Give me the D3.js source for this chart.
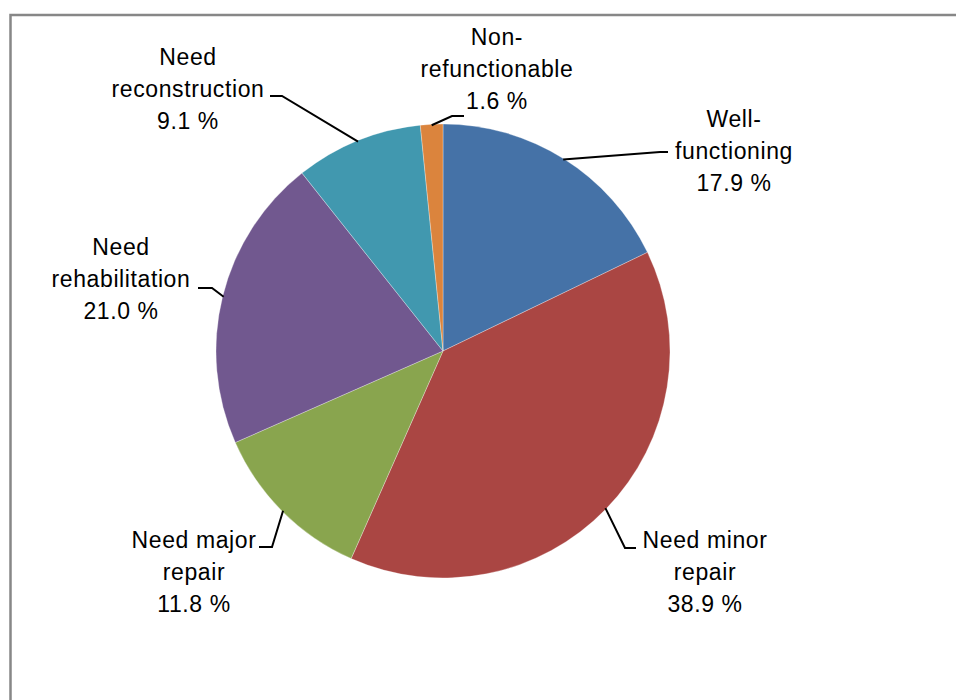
<!DOCTYPE html>
<html>
<head>
<meta charset="utf-8">
<script src="https://cdn.jsdelivr.net/npm/d3@7"></script>
<style>
  body { margin: 0; background: #fff; }
  text { font-family: "Liberation Sans", Arial, sans-serif; }
</style>
</head>
<body>
<div id="chart"></div>
<script>
// Data
const categories = ["Well-functioning", "Need minor repair", "Need major repair",
                    "Need rehabilitation", "Need reconstruction", "Non-refunctionable"];
const values = [17.9, 38.9, 11.8, 21.0, 9.1, 1.6];
const labelLines = [
    ["Well-", "functioning"],
    ["Need minor", "repair"],
    ["Need major", "repair"],
    ["Need", "rehabilitation"],
    ["Need", "reconstruction"],
    ["Non-", "refunctionable"]
];
const colors = ["#4572A7", "#AA4643", "#89A54E", "#71588F", "#4198AF", "#DB843D"];

// Label placement (text anchor, leader elbow and end)
const labelLayout = [
    { x: 734, y: 127, elbow: [660, 152], end: [668, 152] },
    { x: 705, y: 548, elbow: [625, 548], end: [636, 548] },
    { x: 194, y: 548, elbow: [272, 547], end: [259, 547] },
    { x: 121, y: 255, elbow: [212, 288], end: [198, 288] },
    { x: 188, y: 65,  elbow: [282, 96],  end: [270, 96] },
    { x: 497, y: 45,  elbow: [452, 116], end: [464, 116] }
];

const width = 956, height = 700;
const cx = 443, cy = 351, radius = 227;

const svg = d3.select("#chart")
    .append("svg")
    .attr("width", width)
    .attr("height", height);

// Frame
svg.append("rect")
    .attr("x", 10.5)
    .attr("y", 15)
    .attr("width", 1000)
    .attr("height", 800)
    .attr("fill", "#fff")
    .attr("stroke", "#878787")
    .attr("stroke-width", 2.5);

const data = categories.map((c, i) => ({ name: c, value: values[i], lines: labelLines[i], pos: labelLayout[i] }));

const pie = d3.pie()
    .sort(null)
    .value(d => d.value);

const arc = d3.arc()
    .innerRadius(0)
    .outerRadius(radius);

const edgeArc = d3.arc()
    .innerRadius(radius - 1)
    .outerRadius(radius - 1);

const g = svg.append("g")
    .attr("transform", `translate(${cx},${cy})`);

const arcs = pie(data);

g.selectAll("path.slice")
    .data(arcs)
    .enter()
    .append("path")
    .attr("class", "slice")
    .attr("d", arc)
    .attr("fill", (d, i) => colors[i])
    .attr("stroke", "#ffffff")
    .attr("stroke-opacity", 0.5)
    .attr("stroke-width", 0.6);

// Leader lines
svg.selectAll("polyline.leader")
    .data(arcs)
    .enter()
    .append("polyline")
    .attr("class", "leader")
    .attr("points", d => {
        const p = edgeArc.centroid(d);
        const l = d.data.pos;
        return [[p[0] + cx, p[1] + cy], l.elbow, l.end].map(q => q.join(",")).join(" ");
    })
    .attr("fill", "none")
    .attr("stroke", "#000")
    .attr("stroke-width", 2);

// Labels
const labels = svg.selectAll("text.label")
    .data(arcs)
    .enter()
    .append("text")
    .attr("class", "label")
    .attr("text-anchor", "middle")
    .attr("font-size", "23px")
    .attr("letter-spacing", "0.6px")
    .attr("fill", "#000");

labels.each(function(d) {
    const t = d3.select(this);
    const l = d.data.pos;
    const lines = d.data.lines.concat([d.data.value.toFixed(1) + " %"]);
    lines.forEach((s, k) => {
        t.append("tspan")
            .attr("x", l.x)
            .attr("y", l.y + k * 32)
            .text(s);
    });
});
</script>
</body>
</html>
